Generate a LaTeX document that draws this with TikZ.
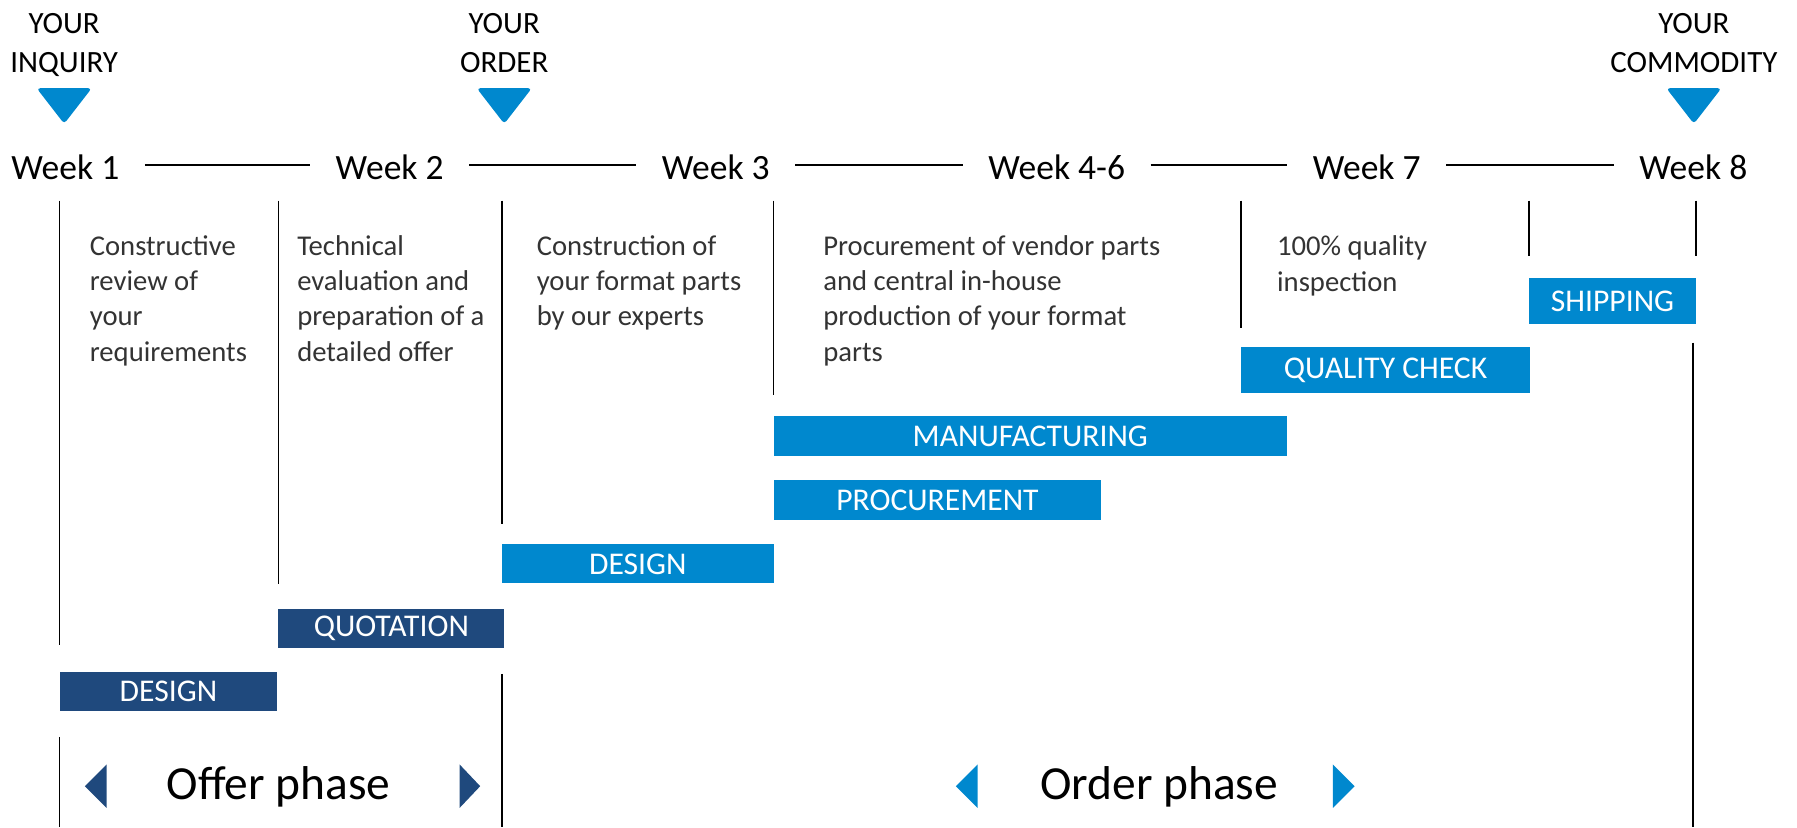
\documentclass[tikz,border=0pt]{standalone}
\usepackage{fontspec}
\setmainfont{Carlito}
\definecolor{lightblue}{HTML}{0088CE}
\definecolor{darkblue}{HTML}{1F497D}

\begin{document}
\begin{tikzpicture}[
        x=0.5pt, y=-0.5pt,
        week/.style={font=\fontsize{15.5}{18}\selectfont, text height=13pt, text depth=0pt, inner xsep=11pt, inner ysep=0pt},
        milestone/.style={font=\fontsize{13.5}{17}\selectfont, align=center, anchor=base, inner sep=0pt},
        tip/.style={fill=lightblue, rounded corners=1.5pt},
        desc/.style={font=\fontsize{12.5}{15.35}\selectfont, align=left, anchor=base west, inner sep=0pt, text=black!80},
        bar/.style={fill=lightblue, text=white, minimum height=17.5pt, inner sep=0pt, font=\fontsize{13.8}{15}\selectfont},
        darkbar/.style={bar, fill=darkblue},
        sep/.style={line width=0.75pt},
        phase/.style={font=\fontsize{20.7}{24}\selectfont, anchor=base}
    ]
    \useasboundingbox (0,0) rectangle (1568,722);
    % Milestones
    \node[milestone] (inquiry) at (56,63) {YOUR\\INQUIRY};
    \node[milestone] (order) at (440,63) {YOUR\\ORDER};
    \node[milestone] (commodity) at (1478,63) {YOUR\\COMMODITY};
    \foreach \x in {56,440,1478}
        \fill[tip] (\x-24,77) -- (\x+24,77) -- (\x,108) -- cycle;
    % Weeks
    \node[week] (w1) at (57,144) {Week 1};
    \node[week] (w2) at (340,144) {Week 2};
    \node[week] (w3) at (624.5,144) {Week 3};
    \node[week] (w4) at (922,144) {Week 4-6};
    \node[week] (w7) at (1192.5,144) {Week 7};
    \node[week] (w8) at (1477.5,144) {Week 8};
    % Timeline
    \draw[sep] (w1) -- (w2);
    \draw[sep] (w2) -- (w3);
    \draw[sep] (w3) -- (w4);
    \draw[sep] (w4) -- (w7);
    \draw[sep] (w7) -- (w8);
    % Columns
    \draw[sep] (52,175) -- (52,563);
    \draw[sep] (52,643) -- (52,722);
    \draw[sep] (243,175) -- (243,510);
    \draw[sep] (438,175) -- (438,457);
    \draw[sep] (438,588) -- (438,722);
    \draw[sep] (675,175) -- (675,345);
    \draw[sep] (1083,175) -- (1083,286);
    \draw[sep] (1334,175) -- (1334,223);
    \draw[sep] (1480,175) -- (1480,223);
    \draw[sep] (1477,299) -- (1477,722);
    % Descriptions
    \node[desc] (d1) at (78,315) {Constructive\\review of\\your\\requirements};
    \node[desc] (d2) at (259,315) {Technical\\evaluation and\\preparation of a\\detailed offer};
    \node[desc] (d3) at (468,284) {Construction of\\your format parts\\by our experts};
    \node[desc] (d4) at (718,315) {Procurement of vendor parts\\and central in-house\\production of your format\\parts};
    \node[desc] (d5) at (1114,254) {100\% quality\\inspection};
    % Bars
    \node[bar, minimum width=73pt, minimum height=20pt] (shipping) at (1407,263) {SHIPPING};
    \node[bar, minimum width=126pt, minimum height=20pt] (quality) at (1209,323) {QUALITY CHECK};
    \node[bar, minimum width=224pt] (manufacturing) at (899,380.5) {MANUFACTURING};
    \node[bar, minimum width=143pt] (procurement) at (818,436.5) {PROCUREMENT};
    \node[bar, minimum width=118.5pt, minimum height=17pt] (design) at (556.5,492) {DESIGN};
    \node[darkbar, minimum width=98.5pt, minimum height=17pt] (quotation) at (341.5,548) {QUOTATION};
    \node[darkbar, minimum width=95pt, minimum height=17pt] (offerdesign) at (147,603) {DESIGN};
    % Phases
    \node[phase] (offer) at (243,698) {Offer phase};
    \node[phase] (orderphase) at (1011.5,698) {Order phase};
    \fill[darkblue] (93,667) -- (93,705) -- (74,686) -- cycle;
    \fill[darkblue] (401,667) -- (401,705) -- (419,686) -- cycle;
    \fill[lightblue] (853,667) -- (853,705) -- (834,686) -- cycle;
    \fill[lightblue] (1163,667) -- (1163,705) -- (1182,686) -- cycle;
\end{tikzpicture}
\end{document}
